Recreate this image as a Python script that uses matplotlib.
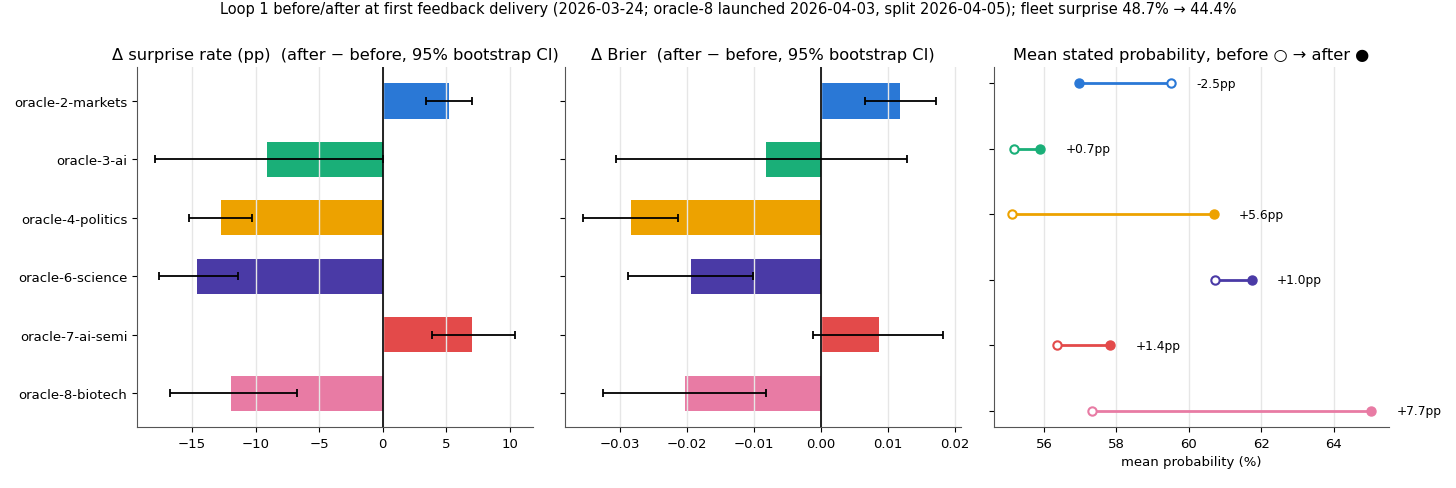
import matplotlib
matplotlib.use("AGG")
import matplotlib.pyplot as plt
import numpy as np

# oracles, top to bottom
oracles = ["oracle-2-markets", "oracle-3-ai", "oracle-4-politics",
           "oracle-6-science", "oracle-7-ai-semi", "oracle-8-biotech"]
colors = ["#2a78d6", "#1aaf78", "#eda200", "#4a3aa6", "#e34a4a", "#e87ba4"]

# change in surprise rate (pp) with 95% CI
surprise_delta = [5.2, -9.1, -12.7, -14.6, 7.0, -11.9]
surprise_lo = [3.4, -17.9, -15.2, -17.6, 3.9, -16.7]
surprise_hi = [7.0, 0.0, -10.3, -11.4, 10.4, -6.7]

# change in Brier score with 95% CI
brier_delta = [0.0118, -0.0082, -0.0283, -0.0193, 0.0087, -0.0202]
brier_lo = [0.0066, -0.0305, -0.0354, -0.0288, -0.0011, -0.0325]
brier_hi = [0.0172, 0.0129, -0.0213, -0.0101, 0.0182, -0.0082]

# mean stated probability (%) before / after
prob_before = [59.52, 55.18, 55.11, 60.73, 56.37, 57.33]
prob_after = [56.97, 55.90, 60.69, 61.74, 57.83, 65.04]
prob_labels = ["-2.5pp", "+0.7pp", "+5.6pp", "+1.0pp", "+1.4pp", "+7.7pp"]

TICK_FS = 9.5
TITLE_FS = 11.7

fig = plt.figure(figsize=(14.56, 4.89), dpi=100)
ax1 = fig.add_axes([0.0941, 0.1247, 0.272, 0.736])
ax2 = fig.add_axes([0.3883, 0.1247, 0.2716, 0.736])
ax3 = fig.add_axes([0.6825, 0.1247, 0.2717, 0.736])

y = np.arange(len(oracles))


def style_axis(ax):
    ax.spines["top"].set_visible(False)
    ax.spines["right"].set_visible(False)
    for s in ("left", "bottom"):
        ax.spines[s].set_color("#555555")
    ax.grid(axis="x", color="#e6e6e6", linewidth=1.0)
    ax.tick_params(labelsize=TICK_FS, colors="black")


def bar_panel(ax, delta, lo, hi, title):
    delta = np.array(delta)
    err = np.array([delta - np.array(lo), np.array(hi) - delta])
    ax.barh(y, delta, height=0.6, color=colors)
    ax.errorbar(delta, y, xerr=err, fmt="none", ecolor="black",
                elinewidth=1.3, capsize=3, capthick=1.3, zorder=3)
    ax.axvline(0, color="black", linewidth=1.2, zorder=3)
    ax.invert_yaxis()
    ax.set_title(title, fontsize=TITLE_FS)
    style_axis(ax)


bar_panel(ax1, surprise_delta, surprise_lo, surprise_hi,
          "Δ surprise rate (pp)  (after − before, 95% bootstrap CI)")
ax1.set_yticks(y)
ax1.set_yticklabels(oracles)

bar_panel(ax2, brier_delta, brier_lo, brier_hi,
          "Δ Brier  (after − before, 95% bootstrap CI)")
ax2.set_yticks(y)
ax2.set_yticklabels([])

# dumbbell panel
for i in range(len(oracles)):
    ax3.plot([prob_before[i], prob_after[i]], [i, i], color=colors[i], linewidth=2)
    ax3.plot(prob_before[i], i, "o", markersize=6, markerfacecolor="white",
             markeredgecolor=colors[i], markeredgewidth=1.5)
    ax3.plot(prob_after[i], i, "o", markersize=6.5, color=colors[i])
    ax3.text(max(prob_before[i], prob_after[i]) + 0.7, i, prob_labels[i],
             va="center", ha="left", fontsize=8.8)
ax3.invert_yaxis()
ax3.set_yticks(y)
ax3.set_yticklabels([])
ax3.set_xlabel("mean probability (%)", fontsize=TICK_FS)
ax3.set_title("Mean stated probability, before ○ → after ●", fontsize=TITLE_FS)
style_axis(ax3)

fig.suptitle("Loop 1 before/after at first feedback delivery (2026-03-24; oracle-8 launched "
             "2026-04-03, split 2026-04-05); fleet surprise 48.7% → 44.4%",
             fontsize=10.5, y=0.995)

fig.savefig("out.png", dpi=100)
